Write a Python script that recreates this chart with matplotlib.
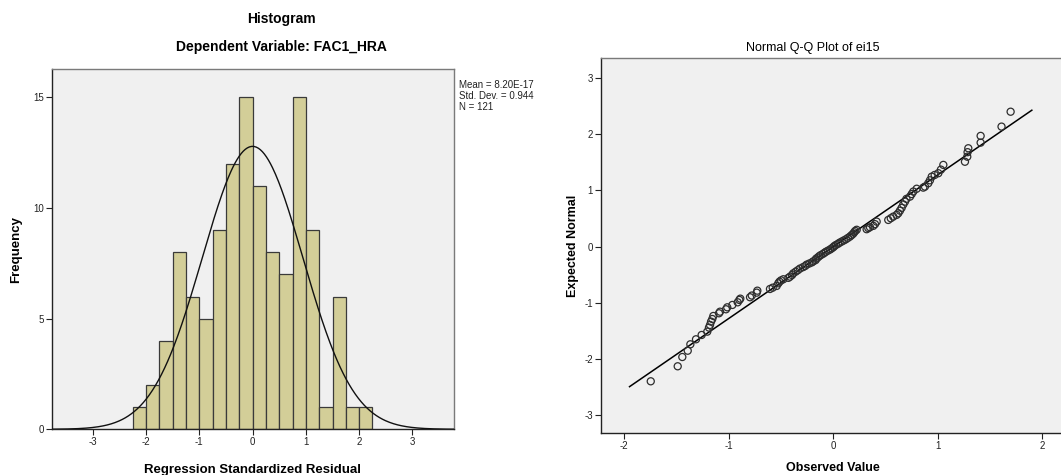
import numpy as np
import matplotlib
matplotlib.use("Agg")
import matplotlib.pyplot as plt

plt.rcParams['font.family'] = ['Liberation Sans', 'DejaVu Sans']
plt.rcParams['axes.unicode_minus'] = False

# ---- Histogram of regression standardized residuals ----
bin_edges = [-2.25, -2.0, -1.75, -1.5, -1.25, -1.0, -0.75, -0.5, -0.25, 0.0,
             0.25, 0.5, 0.75, 1.0, 1.25, 1.5, 1.75, 2.0, 2.25]
bin_counts = [1, 2, 4, 8, 6, 5, 9, 12, 15, 11, 8, 7, 15, 9, 1, 6, 1, 1]
resid_mean = 8.20e-17
resid_sd = 0.944
resid_n = 121
hist_xticks = [-3, -2, -1, 0, 1, 2, 3]
hist_yticks = [0, 5, 10, 15]

# ---- Normal Q-Q plot of ei15 ----
observed = [-1.747, -1.489, -1.445, -1.393, -1.368, -1.314, -1.260, -1.206,
            -1.190, -1.180, -1.170, -1.158, -1.148, -1.094, -1.084, -1.027,
            -1.015, -0.966, -0.915, -0.899, -0.890, -0.797, -0.780, -0.733,
            -0.727, -0.606, -0.580, -0.542, -0.526, -0.515, -0.500, -0.478,
            -0.430, -0.414, -0.395, -0.383, -0.360, -0.340, -0.319, -0.290,
            -0.270, -0.255, -0.230, -0.205, -0.191, -0.170, -0.165, -0.150,
            -0.135, -0.120, -0.100, -0.085, -0.070, -0.050, -0.030, -0.015,
            0.000, 0.010, 0.025, 0.045, 0.060, 0.080, 0.100, 0.120,
            0.140, 0.160, 0.175, 0.190, 0.200, 0.210, 0.224, 0.319,
            0.335, 0.351, 0.383, 0.399, 0.415, 0.526, 0.550, 0.574,
            0.606, 0.622, 0.638, 0.654, 0.670, 0.686, 0.700, 0.734,
            0.750, 0.766, 0.798, 0.861, 0.877, 0.909, 0.925, 0.942,
            0.970, 1.005, 1.030, 1.053, 1.260, 1.282, 1.285, 1.292,
            1.410, 1.410, 1.610, 1.697]
expected = [-2.395, -2.128, -1.963, -1.851, -1.737, -1.648, -1.571, -1.512,
            -1.440, -1.393, -1.334, -1.287, -1.233, -1.185, -1.157, -1.114,
            -1.079, -1.037, -0.990, -0.948, -0.925, -0.900, -0.870, -0.818,
            -0.783, -0.753, -0.730, -0.699, -0.652, -0.623, -0.600, -0.580,
            -0.555, -0.534, -0.505, -0.474, -0.445, -0.420, -0.390, -0.365,
            -0.345, -0.320, -0.300, -0.280, -0.260, -0.240, -0.215, -0.195,
            -0.170, -0.150, -0.130, -0.110, -0.090, -0.070, -0.050, -0.030,
            -0.010, 0.010, 0.030, 0.050, 0.070, 0.090, 0.110, 0.130,
            0.155, 0.180, 0.205, 0.230, 0.255, 0.280, 0.300, 0.310,
            0.330, 0.345, 0.370, 0.400, 0.445, 0.475, 0.505, 0.534,
            0.565, 0.594, 0.640, 0.690, 0.750, 0.800, 0.850, 0.890,
            0.935, 0.980, 1.030, 1.050, 1.068, 1.128, 1.180, 1.245,
            1.275, 1.306, 1.370, 1.454, 1.510, 1.600, 1.680, 1.750,
            1.850, 1.970, 2.135, 2.400]
obs_mean = 0.0
obs_sd = 0.783
line_x = [-1.95, 1.90]
qq_xticks = [-2, -1, 0, 1, 2]
qq_yticks = [-3, -2, -1, 0, 1, 2, 3]

W, H = 1061, 475
fig = plt.figure(figsize=(W / 100, H / 100), dpi=100)
fig.patch.set_facecolor('white')

panel_bg = '#f0f0f0'
bar_color = '#d3ce98'
edge_dark = '#3a3a3a'


def style_axes(ax):
    ax.set_facecolor(panel_bg)
    for side in ('left', 'bottom'):
        ax.spines[side].set_color('#222222')
        ax.spines[side].set_linewidth(1.0)
    for side in ('top', 'right'):
        ax.spines[side].set_color('#7a7a7a')
        ax.spines[side].set_linewidth(1.0)
    ax.tick_params(direction='out', length=4, width=0.8, color='#222222',
                   labelsize=7, labelcolor='#222222', pad=1.5)


def px_axes(left, top, right, bottom):
    return fig.add_axes([left / W, 1 - bottom / H, (right - left) / W,
                         (bottom - top) / H])


# Histogram panel
ax1 = px_axes(51.7, 69, 454, 429.3)
style_axes(ax1)
edges = np.array(bin_edges)
ax1.bar(edges[:-1], bin_counts, width=np.diff(edges), align='edge',
        color=bar_color, edgecolor=edge_dark, linewidth=0.9, zorder=2)
xs = np.linspace(-3.77, 3.78, 400)
bw = edges[1] - edges[0]
curve = resid_n * bw * np.exp(-0.5 * ((xs - resid_mean) / resid_sd) ** 2) / (resid_sd * np.sqrt(2 * np.pi))
ax1.plot(xs, curve, color='#111111', linewidth=1.0, zorder=3)
ax1.set_xlim(-3.77, 3.78)
ax1.set_ylim(0, 16.28)
ax1.set_xticks(hist_xticks)
ax1.set_yticks(hist_yticks)
ax1.set_xlabel('Regression Standardized Residual', fontsize=9.5,
               fontweight='bold', labelpad=12)
ax1.set_ylabel('Frequency', fontsize=9.5, fontweight='bold', labelpad=8)

fig.text(281 / W, 1 - 19 / H, 'Histogram', ha='center', va='center',
         fontsize=10, fontweight='bold')
fig.text(281 / W, 1 - 47 / H, 'Dependent Variable: FAC1_HRA', ha='center',
         va='center', fontsize=10, fontweight='bold')
stats_lines = ['Mean = %.2E' % resid_mean, 'Std. Dev. = %.3f' % resid_sd,
               'N = %d' % resid_n]
for i, s in enumerate(stats_lines):
    fig.text(459 / W, 1 - (85 + 11 * i) / H, s, ha='left', va='center',
             fontsize=7, color='#222222')

# Q-Q panel
ax2 = px_axes(600.7, 58.3, 1066, 433.3)
style_axes(ax2)
ax2.plot(line_x, [(v - obs_mean) / obs_sd for v in line_x], color='#000000',
         linewidth=1.1, zorder=2)
ax2.scatter(observed, expected, s=26, facecolors='none', edgecolors='#2e2e2e',
            linewidths=0.9, zorder=3)
ax2.set_xlim(-2.226, 2.227)
ax2.set_ylim(-3.32, 3.35)
ax2.set_xticks(qq_xticks)
ax2.set_yticks(qq_yticks)
ax2.set_xlabel('Observed Value', fontsize=9, fontweight='bold', labelpad=8)
ax2.set_ylabel('Expected Normal', fontsize=9, fontweight='bold', labelpad=4)
fig.text(813 / W, 1 - 48 / H, 'Normal Q-Q Plot of ei15', ha='center',
         va='center', fontsize=9)

fig.savefig('out.png', dpi=100)
